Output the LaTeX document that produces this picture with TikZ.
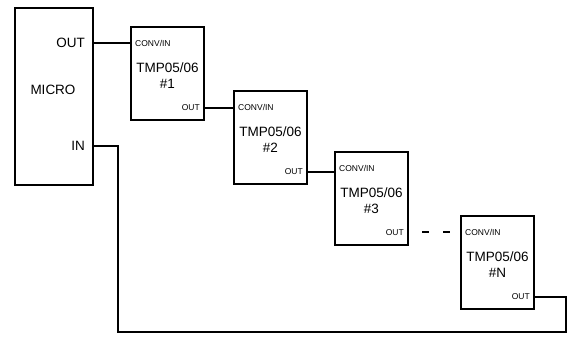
\documentclass[tikz,border=0pt]{standalone}
\usepackage{fontspec}
\setmainfont{Liberation Sans}
\begin{document}
\begin{tikzpicture}[x=1pt,y=-1pt,
  box/.style={draw,line width=2pt,minimum width=73pt,minimum height=93pt,inner sep=0pt,anchor=north west},
  wire/.style={line width=2pt,line join=miter},
  small/.style={font=\fontsize{8.5}{10}\selectfont,inner sep=0pt},
  big/.style={font=\fontsize{13.5}{16}\selectfont,inner sep=0pt,align=center}]
\useasboundingbox (0,0) rectangle (571,337);
% micro
\node[box,minimum width=78pt,minimum height=177pt] (micro) at (14,7) {};
\node[big] (mlabel) at (53,90) {MICRO};
\node[big,anchor=east] (mout) at (85,43) {OUT};
\node[big,anchor=east] (min) at (85,146) {IN};
% chip 1
\node[box] (c1) at (130,26) {};
\node[small,anchor=west] (c1in) at ([shift={(5,17)}]c1.north west) {CONV/IN};
\node[big] (c1name) at ([shift={(0,50)}]c1.north) {TMP05/06\\\#1};
\node[small,anchor=east] (c1out) at ([shift={(-5,-13)}]c1.south east) {OUT};
% chip 2
\node[box] (c2) at (233,90) {};
\node[small,anchor=west] (c2in) at ([shift={(5,17)}]c2.north west) {CONV/IN};
\node[big] (c2name) at ([shift={(0,50)}]c2.north) {TMP05/06\\\#2};
\node[small,anchor=east] (c2out) at ([shift={(-5,-13)}]c2.south east) {OUT};
% chip 3
\node[box] (c3) at (334,151) {};
\node[small,anchor=west] (c3in) at ([shift={(5,17)}]c3.north west) {CONV/IN};
\node[big] (c3name) at ([shift={(0,50)}]c3.north) {TMP05/06\\\#3};
\node[small,anchor=east] (c3out) at ([shift={(-5,-13)}]c3.south east) {OUT};
% chip N
\node[box] (cN) at (460,215) {};
\node[small,anchor=west] (cNin) at ([shift={(5,17)}]cN.north west) {CONV/IN};
\node[big] (cNname) at ([shift={(0,50)}]cN.north) {TMP05/06\\\#N};
\node[small,anchor=east] (cNout) at ([shift={(-5,-13)}]cN.south east) {OUT};
% wires
\coordinate (r) at (566,332);
\coordinate (l) at (118,332);
\draw[wire] (micro.east |- mout) -- (c1.west |- mout);
\draw[wire] (c1.east |- c1out) -- (c2.west |- c1out);
\draw[wire] (c2.east |- c2out) -- (c3.west |- c2out);
\draw[wire,dash pattern=on 0pt off 13pt on 7pt off 14pt on 7pt off 30pt] (c3.east |- cNin) -- (cN.west |- cNin);
\draw[wire] (cN.east |- cNout) -| (r) -| (l) |- (micro.east |- min);
\end{tikzpicture}
\end{document}
